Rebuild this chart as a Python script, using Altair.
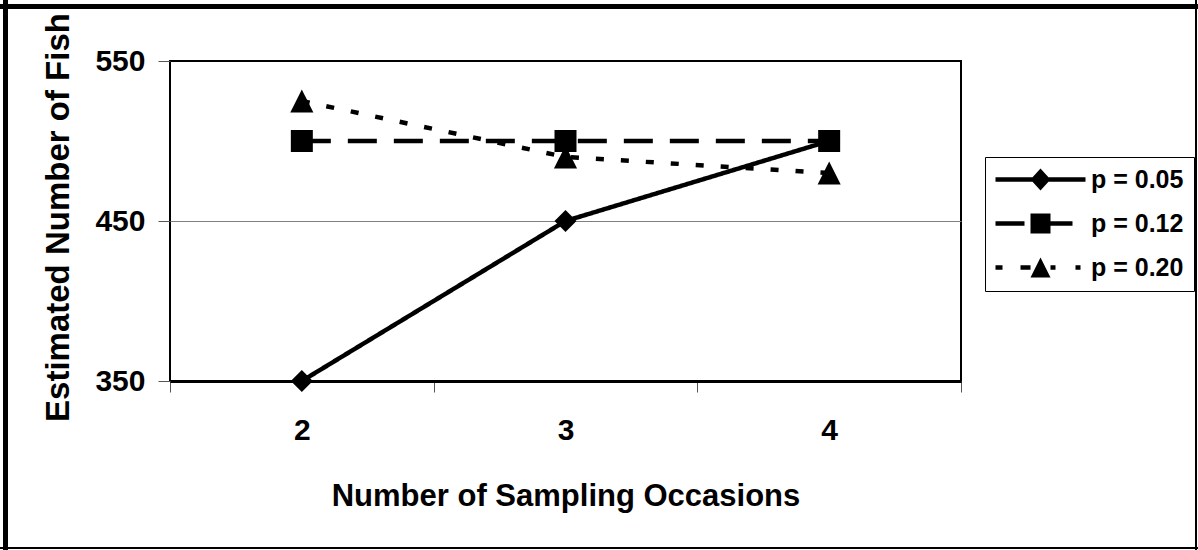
import altair as alt
import pandas as pd

# ---- data ----
occasions = [2, 3, 4]
series = ["p = 0.05", "p = 0.12", "p = 0.20"]
p005 = [350, 450, 500]
p012 = [500, 500, 500]
p020 = [525, 490, 480]

rows = []
for name, vals in zip(series, [p005, p012, p020]):
    for o, v in zip(occasions, vals):
        rows.append({"occasions": o, "series": name, "value": v})
df = pd.DataFrame(rows)

FONT = "Liberation Sans"

x_enc = alt.X(
    "occasions:O",
    scale=alt.Scale(type="band", paddingInner=0, paddingOuter=0),
    axis=alt.Axis(
        title="Number of Sampling Occasions",
        labelAngle=0,
        tickBand="extent",
        tickSize=11,
        tickColor="#555555",
        tickWidth=1,
        domainColor="black",
        domainWidth=3,
        grid=False,
        labelFont=FONT,
        labelFontSize=30,
        labelFontWeight="bold",
        labelColor="black",
        labelPadding=23,
        titleFont=FONT,
        titleFontSize=31,
        titleFontWeight="bold",
        titleColor="black",
        titleBaseline="alphabetic",
        titleY=124,
    ),
)

y_enc = alt.Y(
    "value:Q",
    scale=alt.Scale(domain=[350, 550], nice=False, zero=False),
    axis=alt.Axis(
        title="Estimated Number of Fish",
        values=[350, 450, 550],
        tickSize=12,
        tickColor="#555555",
        tickWidth=1,
        domain=False,
        grid=True,
        gridColor={"condition": {"test": "datum.value === 450", "value": "#808080"}, "value": "black"},
        gridWidth=1,
        labelFont=FONT,
        labelFontSize=30,
        labelFontWeight="bold",
        labelColor="black",
        labelPadding=13,
        titleFont=FONT,
        titleFontSize=33,
        titleFontWeight="bold",
        titleColor="black",
        titleBaseline="alphabetic",
        titleX=-102,
        titleY=156,
    ),
)

lines = alt.Chart(df).mark_line(color="black", strokeWidth=4.5, strokeCap="butt").encode(
    x=x_enc,
    y=y_enc,
    strokeDash=alt.StrokeDash(
        "series:N",
        scale=alt.Scale(domain=series, range=[[1, 0], [29, 17], [8, 17]]),
        legend=None,
    ),
    detail="series:N",
)

points = alt.Chart(df).mark_point(
    filled=True, color="black", size=484, opacity=1, strokeWidth=0
).encode(
    x=x_enc,
    y=y_enc,
    shape=alt.Shape(
        "series:N",
        scale=alt.Scale(
            domain=series,
            range=["diamond", "square", "M0,-1.05L1.05,1.05L-1.05,1.05Z"],
        ),
        legend=None,
    ),
)

legend_paths = [
    "M-1.2,-0.22L7.8,-0.22L7.8,0.22L-1.2,0.22Z M3.3,-1.1L4.3,0L3.3,1.1L2.3,0Z",
    "M-1.2,-0.22L1.7,-0.22L1.7,0.22L-1.2,0.22Z M2.3,-1L4.3,-1L4.3,1L2.3,1Z M4.3,-0.22L6.5,-0.22L6.5,0.22L4.3,0.22Z",
    "M-1.2,-0.22L-0.5,-0.22L-0.5,0.22L-1.2,0.22Z M1.3,-0.22L2.3,-0.22L2.3,0.22L1.3,0.22Z M3.3,-1L4.3,1L2.3,1Z "
    "M4.3,-0.22L4.8,-0.22L4.8,0.22L4.3,0.22Z M6.8,-0.22L7.3,-0.22L7.3,0.22L6.8,0.22Z",
]

legend_layer = alt.Chart(df).transform_filter("false").mark_point(
    filled=True, color="black", opacity=1, strokeWidth=0
).encode(
    x=x_enc,
    y=y_enc,
    shape=alt.Shape(
        "series:N",
        scale=alt.Scale(domain=series, range=legend_paths),
        legend=alt.Legend(
            title=None,
            orient="none",
            legendX=815,
            legendY=96,
            padding=10,
            symbolSize=400,
            symbolStrokeWidth=0,
            symbolFillColor="black",
            symbolOpacity=1,
            labelOffset=71,
            labelFont=FONT,
            labelFontSize=25,
            labelFontWeight="bold",
            labelColor="black",
            labelLimit=300,
            rowPadding=18,
            strokeColor="black",
            fillColor="white",
        ),
    ),
)

# outer frame of the figure (decoration)
frame_df = pd.DataFrame({"k": [0]})
frame_left = alt.Chart(frame_df).mark_rule(color="black", strokeWidth=5).encode(
    x=alt.value(-164.5), y=alt.value(-61), y2=alt.value(489)
)
frame_top = alt.Chart(frame_df).mark_rule(color="black", strokeWidth=5).encode(
    x=alt.value(-170), x2=alt.value(1028), y=alt.value(-54.5)
)
frame_right = alt.Chart(frame_df).mark_rule(color="black", strokeWidth=2).encode(
    x=alt.value(1026), y=alt.value(-61), y2=alt.value(489)
)
frame_bottom = alt.Chart(frame_df).mark_rule(color="black", strokeWidth=2).encode(
    x=alt.value(-170), x2=alt.value(1028), y=alt.value(487)
)

chart = (
    alt.layer(lines, points, legend_layer, frame_left, frame_top, frame_right, frame_bottom)
    .resolve_scale(shape="independent")
    .properties(
        width=791,
        height=320,
        autosize=alt.AutoSizeParams(type="none"),
        padding={"left": 170, "top": 61, "right": 237, "bottom": 169},
        background="white",
    )
    .configure_view(stroke="black", strokeWidth=2)
)

chart.save("out.html", embed_options={"renderer": "svg", "actions": False})
